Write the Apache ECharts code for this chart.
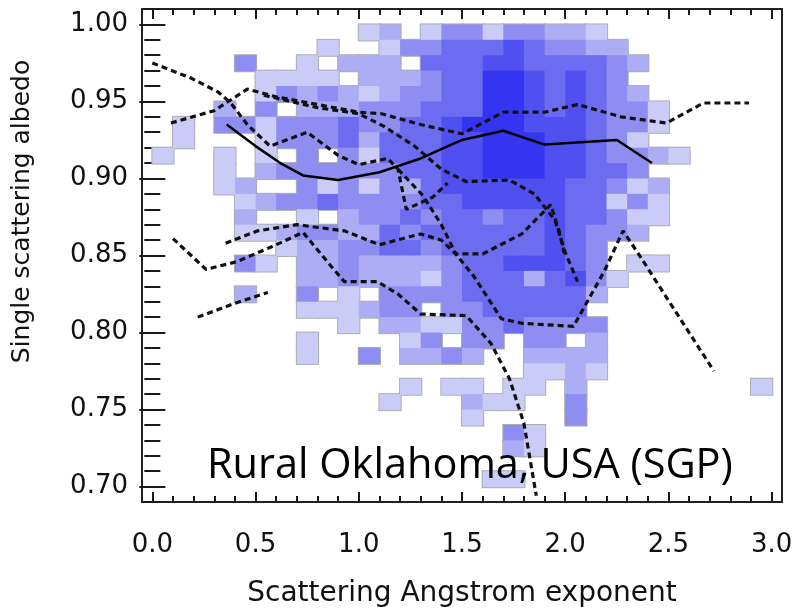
<!DOCTYPE html>
<html>
<head>
<meta charset="utf-8">
<script src="https://cdn.jsdelivr.net/npm/echarts@6/dist/echarts.min.js"></script>
<style>
  html, body { margin: 0; padding: 0; background: #fff; }
  #chart { width: 796px; height: 613px; }
</style>
</head>
<body>
<div id="chart"></div>
<script>
// bin edges (lower-left corner of each cell)
const angBins = [0.0, 0.1, 0.2, 0.3, 0.4, 0.5, 0.6, 0.7, 0.8, 0.9,
                 1.0, 1.1, 1.2, 1.3, 1.4, 1.5, 1.6, 1.7, 1.8, 1.9,
                 2.0, 2.1, 2.2, 2.3, 2.4, 2.5, 2.6, 2.7, 2.8, 2.9]
const ssaBins = [0.99, 0.98, 0.97, 0.96, 0.95, 0.94, 0.93, 0.92, 0.91, 0.90,
                 0.89, 0.88, 0.87, 0.86, 0.85, 0.84, 0.83, 0.82, 0.81, 0.80,
                 0.79, 0.78, 0.77, 0.76, 0.75, 0.74, 0.73, 0.72, 0.71, 0.70]
const angStep = 0.1
const ssaStep = 0.01

// relative frequency (0 = empty, 6 = highest), one row per ssaBins entry
const density = [
  [0,0,0,0,0,0,0,0,0,0, 1,2,0,1,3,3,1,3,3,2, 2,1,0,0,0,0,0,0,0,0],
  [0,0,0,0,0,0,0,0,1,0, 0,1,3,3,4,4,4,5,4,3, 3,2,2,0,0,0,0,0,0,0],
  [0,0,0,0,3,0,0,1,0,2, 2,2,0,4,4,4,5,5,4,4, 4,4,3,2,0,0,0,0,0,0],
  [0,0,0,0,0,1,1,1,1,0, 2,2,2,3,4,4,6,6,5,4, 5,4,3,0,0,0,0,0,0,0],
  [0,0,0,0,0,1,3,2,3,2, 1,2,3,3,4,4,6,6,5,4, 5,4,3,2,0,0,0,0,0,0],
  [0,0,0,2,0,3,0,2,2,2, 3,3,3,4,4,4,6,6,5,4, 5,4,3,3,1,0,0,0,0,0],
  [0,1,0,3,3,1,3,3,3,4, 3,3,4,4,5,6,6,6,5,5, 5,4,3,3,1,0,0,0,0,0],
  [0,1,0,0,0,1,3,3,3,4, 2,4,4,4,5,5,6,6,6,5, 5,4,3,1,0,0,0,0,0,0],
  [1,0,0,1,0,1,0,3,0,3, 1,4,4,4,5,5,6,6,6,5, 5,4,3,3,2,1,0,0,0,0],
  [0,0,0,1,0,2,3,3,3,3, 3,3,4,4,5,5,6,6,6,5, 5,4,4,3,0,0,0,0,0,0],
  [0,0,0,1,2,0,0,3,1,3, 1,3,2,4,5,5,5,5,5,5, 4,4,3,1,2,0,0,0,0,0],
  [0,0,0,0,1,2,3,3,4,3, 3,3,3,4,4,5,5,5,5,5, 4,4,1,3,1,0,0,0,0,0],
  [0,0,0,0,2,0,0,1,0,2, 3,3,4,3,4,4,3,4,4,5, 4,4,3,1,1,0,0,0,0,0],
  [0,0,0,0,1,1,2,3,3,2, 2,4,3,4,4,4,4,4,4,5, 4,3,3,2,0,0,0,0,0,0],
  [0,0,0,0,0,0,1,2,2,3, 3,4,4,3,4,4,4,4,4,5, 4,3,0,0,0,0,0,0,0,0],
  [0,0,0,0,3,1,0,2,2,3, 2,2,2,2,3,4,4,5,5,5, 4,3,0,1,1,0,0,0,0,0],
  [0,0,0,0,0,0,0,2,2,3, 2,2,2,1,3,4,4,4,2,4, 5,3,1,0,0,0,0,0,0,0],
  [0,0,0,0,2,0,0,3,0,1, 0,3,3,3,3,4,4,4,4,4, 4,2,0,0,0,0,0,0,0,0],
  [0,0,0,0,0,0,0,1,1,1, 2,3,3,0,3,3,4,4,4,4, 4,0,0,0,0,0,0,0,0,0],
  [0,0,0,0,0,0,0,0,0,1, 0,2,2,1,1,3,3,4,3,3, 3,3,0,0,0,0,0,0,0,0],
  [0,0,0,0,0,0,0,1,0,0, 0,0,1,3,0,3,3,0,3,3, 0,2,0,0,0,0,0,0,0,0],
  [0,0,0,0,0,0,0,1,0,0, 3,0,2,2,3,2,0,0,2,2, 2,2,0,0,0,0,0,0,0,0],
  [0,0,0,0,0,0,0,0,0,0, 0,0,0,0,0,0,0,0,1,1, 2,1,0,0,0,0,0,0,0,0],
  [0,0,0,0,0,0,0,0,0,0, 0,0,1,0,1,1,0,1,1,0, 2,0,0,0,0,0,0,0,0,1],
  [0,0,0,0,0,0,0,0,0,0, 0,1,0,0,0,2,1,1,0,0, 3,0,0,0,0,0,0,0,0,0],
  [0,0,0,0,0,0,0,0,0,0, 0,0,0,0,0,1,0,0,0,0, 3,0,0,0,0,0,0,0,0,0],
  [0,0,0,0,0,0,0,0,0,0, 0,0,0,0,0,0,0,3,1,0, 0,0,0,0,0,0,0,0,0,0],
  [0,0,0,0,0,0,0,0,0,0, 0,0,0,0,0,0,0,2,1,0, 0,0,0,0,0,0,0,0,0,0],
  [0,0,0,0,0,0,0,0,0,0, 0,0,0,0,0,0,0,0,0,0, 0,0,0,0,0,0,0,0,0,0],
  [0,0,0,0,0,0,0,0,0,0, 0,0,0,0,0,0,1,1,0,0, 0,0,0,0,0,0,0,0,0,0]
]

// median curve (solid) and the other site curves (dashed)
const medianLine = [[0.36,0.935],[0.5,0.921],[0.62,0.910],[0.73,0.902],[0.9,0.899],[1.1,0.904],
  [1.3,0.913],[1.5,0.925],[1.7,0.931],[1.9,0.922],[2.25,0.925],[2.42,0.910]]
const dashUpper = [[0.09,0.936],[0.3,0.944],[0.46,0.958],[0.6,0.953],[0.8,0.948],[1.0,0.943],[1.11,0.942],
  [1.3,0.935],[1.5,0.929],[1.7,0.943],[1.9,0.943],[2.06,0.948],[2.27,0.940],[2.49,0.936],[2.67,0.949],[2.89,0.949]]
const dashTopLeft = [[0.0,0.975],[0.19,0.965],[0.32,0.956],[0.38,0.949],[0.46,0.935],[0.57,0.921],[0.75,0.930],
  [0.9,0.915],[1.0,0.909],[1.14,0.913],[1.19,0.906],[1.23,0.880],[1.36,0.888],[1.43,0.897]]
const dashMiddle = [[0.54,0.954],[0.8,0.946],[1.0,0.942],[1.12,0.934],[1.27,0.921],[1.4,0.906],[1.52,0.898],
  [1.73,0.899],[1.85,0.890],[1.95,0.873],[2.0,0.852],[2.06,0.833]]
const dashCross = [[1.19,0.906],[1.31,0.889],[1.40,0.870],[1.47,0.851],[1.6,0.851],[1.79,0.864],[1.93,0.883],
  [1.97,0.866],[2.0,0.849]]
const dashLow = [[0.355,0.858],[0.51,0.866],[0.70,0.870],[0.93,0.866],[1.1,0.857],[1.3,0.864],[1.40,0.860],
  [1.47,0.851],[1.56,0.836],[1.69,0.809],[1.79,0.806],[2.04,0.804],[2.09,0.816],[2.19,0.840],[2.28,0.866],
  [2.36,0.850],[2.72,0.775]]
const dashLeft = [[0.1,0.861],[0.26,0.841],[0.41,0.846],[0.6,0.857],[0.73,0.865],[0.86,0.844],[0.93,0.833],
  [1.09,0.833],[1.19,0.825],[1.3,0.812],[1.52,0.811],[1.64,0.793],[1.73,0.770],[1.80,0.741],[1.86,0.694]]
const dashShort = [[0.22,0.810],[0.40,0.819],[0.56,0.826]]

const xMajor = [0, 0.5, 1.0, 1.5, 2.0, 2.5, 3.0]
const yMajor = [0.70, 0.75, 0.80, 0.85, 0.90, 0.95, 1.00]

let xMinor = []
for (let i = 0; i <= 30; i++) if (i % 5 !== 0) xMinor.push(i / 10)
let yMinor = []
for (let i = 69; i <= 101; i++) if (i % 5 !== 0) yMinor.push(i / 100)

let cells = []
ssaBins.forEach((y, r) => {
  angBins.forEach((x, c) => {
    if (density[r][c] > 0) cells.push([x, y, density[r][c]])
  })
})

const tickStyle = { color: '#1a1a1a', width: 2 }
const labelFont = { fontFamily: 'DejaVu Sans', fontSize: 26, color: '#111' }

function xAxisOf(position, ticks, len, withLabel) {
  return {
    type: 'value', min: -0.05, max: 3.05, position: position,
    splitLine: { show: false },
    axisLine: { show: false },
    axisTick: { show: true, inside: true, length: len, customValues: ticks, lineStyle: tickStyle },
    axisLabel: withLabel ? Object.assign({ show: true, margin: 30, customValues: xMajor,
      formatter: v => v.toFixed(1) }, labelFont) : { show: false },
    name: withLabel ? 'Scattering Angstrom exponent' : '',
    nameLocation: 'middle',
    nameGap: 78,
    nameTextStyle: { fontFamily: 'DejaVu Sans', fontSize: 28, color: '#111' }
  }
}

function yAxisOf(position, ticks, len, withLabel) {
  return {
    type: 'value', min: 0.69, max: 1.01, position: position,
    splitLine: { show: false },
    axisLine: { show: false },
    axisTick: { show: true, inside: true, length: len, customValues: ticks, lineStyle: tickStyle },
    axisLabel: withLabel ? Object.assign({ show: true, margin: 14, customValues: yMajor,
      formatter: v => v.toFixed(2) }, labelFont) : { show: false },
    name: withLabel ? 'Single scattering albedo' : '',
    nameLocation: 'middle',
    nameGap: 107,
    // the title sits a little above the middle of the axis
    nameTextStyle: { fontFamily: 'DejaVu Sans', fontSize: 25, color: '#111', padding: [0, 0, 0, 88] }
  }
}

function cellRect(api, pad) {
  const x0 = api.value(0)
  const y0 = api.value(1)
  const p0 = api.coord([x0, y0 + ssaStep])
  const p1 = api.coord([x0 + angStep, y0])
  return {
    x: p0[0] - pad, y: p0[1] - pad,
    width: p1[0] - p0[0] + 2 * pad + 0.6, height: p1[1] - p0[1] + 2 * pad + 0.6
  }
}

function dashed(data) {
  return {
    type: 'line', data: data, showSymbol: false, symbol: 'none', z: 5,
    lineStyle: { color: '#111', width: 3.2, type: [6, 4] }
  }
}

const chart = echarts.init(document.getElementById('chart'))
chart.setOption({
  animation: false,
  grid: { left: 142, top: 9, width: 640, height: 497, show: true, borderColor: '#222', borderWidth: 2 },
  xAxis: [
    xAxisOf('bottom', xMajor, 10, true),
    xAxisOf('bottom', xMinor, 6, false),
    xAxisOf('top', xMajor, 10, false),
    xAxisOf('top', xMinor, 6, false)
  ],
  yAxis: [
    yAxisOf('left', yMajor, 13, true),
    yAxisOf('left', yMinor, 8, false),
    yAxisOf('right', yMajor, 13, false),
    yAxisOf('right', yMinor, 8, false)
  ],
  visualMap: {
    show: false, type: 'piecewise', seriesIndex: 1, dimension: 2,
    pieces: [
      { value: 1, color: '#cbcbf8' },
      { value: 2, color: '#adadf5' },
      { value: 3, color: '#8e8ef2' },
      { value: 4, color: '#6c6cf0' },
      { value: 5, color: '#5050f0' },
      { value: 6, color: '#3434f2' }
    ]
  },
  series: [
    {
      type: 'custom', data: cells, encode: { x: 0, y: 1 }, z: 1,
      renderItem: (params, api) => ({ type: 'rect', shape: cellRect(api, 1), style: { fill: '#adadb6' } })
    },
    {
      type: 'custom', data: cells, encode: { x: 0, y: 1 }, z: 2,
      renderItem: (params, api) => ({ type: 'rect', shape: cellRect(api, 0), style: { fill: api.visual('color') } })
    },
    dashed(dashUpper),
    dashed(dashTopLeft),
    dashed(dashMiddle),
    dashed(dashCross),
    dashed(dashLow),
    dashed(dashLeft),
    dashed(dashShort),
    {
      type: 'line', data: medianLine, showSymbol: false, symbol: 'none', z: 6,
      lineStyle: { color: '#000', width: 2.5, type: 'solid' }
    }
  ],
  graphic: [{
    type: 'text', left: 207, top: 445, z: 100,
    style: { text: 'Rural Oklahoma, USA (SGP)', fontFamily: 'Open Sans', fontSize: 41.5, fill: '#000' }
  }]
})
</script>
</body>
</html>
